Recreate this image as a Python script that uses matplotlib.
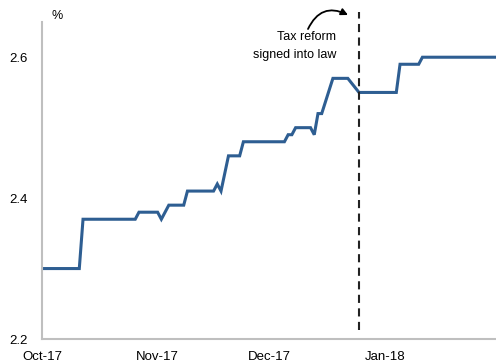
import pandas as pd
import matplotlib.pyplot as plt
import matplotlib.dates as mdates

plt.rcParams['font.family'] = ['Liberation Sans', 'DejaVu Sans']

# 10-year yield path, Oct-2017 to Jan-2018 (%)
dates = ['2017-10-01', '2017-10-11', '2017-10-12', '2017-10-26', '2017-10-27',
         '2017-11-01', '2017-11-02', '2017-11-04', '2017-11-08', '2017-11-09',
         '2017-11-16', '2017-11-17', '2017-11-18', '2017-11-20', '2017-11-23',
         '2017-11-24', '2017-12-05', '2017-12-06', '2017-12-07', '2017-12-08',
         '2017-12-12', '2017-12-13', '2017-12-14', '2017-12-15', '2017-12-18',
         '2017-12-22', '2017-12-25', '2018-01-04', '2018-01-05', '2018-01-10',
         '2018-01-11', '2018-01-31']
values = [2.30, 2.30, 2.37, 2.37, 2.38,
          2.38, 2.37, 2.39, 2.39, 2.41,
          2.41, 2.42, 2.41, 2.46, 2.46,
          2.48, 2.48, 2.49, 2.49, 2.50,
          2.50, 2.49, 2.52, 2.52, 2.57,
          2.57, 2.55, 2.55, 2.59, 2.59,
          2.60, 2.60]

tick_dates = ['2017-10-01', '2017-11-01', '2017-12-01', '2018-01-01']
y_ticks = [2.2, 2.4, 2.6]
event_date = '2017-12-25'
event_label = 'Tax reform\nsigned into law'

dates = pd.to_datetime(dates)

fig = plt.figure(figsize=(4.96, 3.62), dpi=100)
ax = fig.add_axes([42 / 496, 23 / 362, 455 / 496, 317 / 362])

ax.plot(dates, values, color='#2e5e92', linewidth=2.2, solid_joinstyle='miter')

# signing date marker, runs a little above the plot area
ax.axvline(pd.Timestamp(event_date), ymin=0.028, ymax=1.032, color='#222222',
           linewidth=1.5, dashes=(3.9, 2.6), clip_on=False)

ax.text(336 / 496, 1 - 37 / 362, 'Tax reform', transform=fig.transFigure,
        ha='right', va='center', fontsize=9)
ax.text(336 / 496, 1 - 55 / 362, 'signed into law', transform=fig.transFigure,
        ha='right', va='center', fontsize=9)
ax.annotate('', xy=(348 / 496, 1 - 15 / 362), xytext=(308 / 496, 1 - 29 / 362),
            xycoords='figure fraction', textcoords='figure fraction',
            arrowprops=dict(arrowstyle='-|>', color='black', linewidth=1.3,
                            mutation_scale=10, shrinkA=0, shrinkB=0,
                            connectionstyle='arc3,rad=-0.5'))

ax.text(57 / 496, 1 - 16 / 362, '%', transform=fig.transFigure,
        ha='center', va='center', fontsize=9)

ax.set_xlim(pd.Timestamp('2017-10-01'), pd.Timestamp('2018-01-31'))
ax.set_ylim(2.2, 2.65)
ax.set_xticks(pd.to_datetime(tick_dates))
ax.xaxis.set_major_formatter(mdates.DateFormatter('%b-%y'))
ax.set_yticks(y_ticks)
ax.set_yticklabels([f'{v:.1f}' for v in y_ticks])
ax.tick_params(length=0, labelsize=9.5)
ax.tick_params(axis='y', pad=10)
ax.tick_params(axis='x', pad=9)

for side in ['top', 'right']:
    ax.spines[side].set_visible(False)
for side in ['left', 'bottom']:
    ax.spines[side].set_color('#bfbfbf')
    ax.spines[side].set_linewidth(1.5)

plt.savefig('out.png', dpi=100)
